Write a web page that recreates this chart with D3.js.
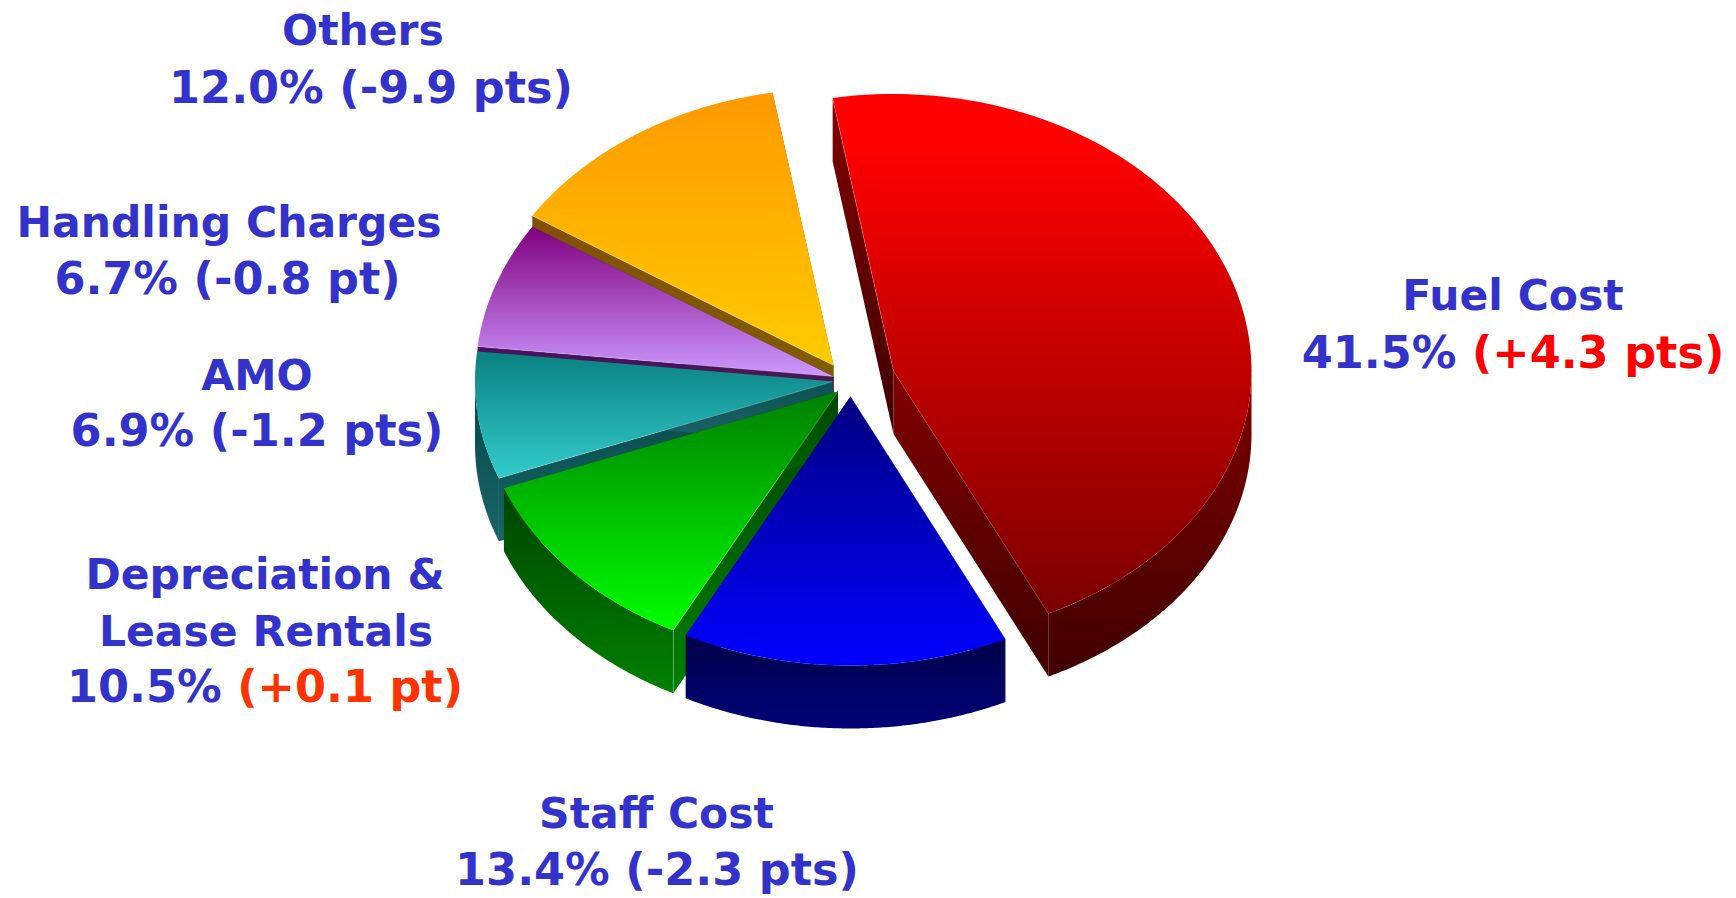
<!DOCTYPE html>
<html><head><meta charset="utf-8">
<script src="https://cdn.jsdelivr.net/npm/d3@7"></script>
<style>html,body{margin:0;padding:0;background:#fff;overflow:hidden}svg{display:block}
text{font-family:"DejaVu Sans",sans-serif;font-weight:700;text-anchor:middle}
.name{font-size:42.5px}
.val{font-size:44.6px}</style>
</head><body><script>
// ---- data ----
const categories = ["Fuel Cost","Staff Cost","Depreciation & Lease Rentals","AMO","Handling Charges","Others"];
const shares = [41.5,13.4,10.5,6.9,6.7,12.0];
const deltas = ["(+4.3 pts)","(-2.3 pts)","(+0.1 pt)","(-1.2 pts)","(-0.8 pt)","(-9.9 pts)"];
const nameLines = [["Fuel Cost"],["Staff Cost"],["Depreciation &","Lease Rentals"],["AMO"],["Handling Charges"],["Others"]];
// ---- styling ----
const faceColors = [["#ff0000","#7a0000"],["#000080","#0000ff"],["#008000","#00ff00"],["#0a8080","#33cccc"],["#800080","#cc99ff"],["#ff9900","#ffcc00"]];
const faceStart = [0.1,0,0,0,0,0];
const wallColors = [["#800000","#400000"],["#000048","#000078"],["#004400","#008000"],["#044848","#1a6468"],["#4a1060","#4a1a50"],["#805000","#806000"]];
const deltaColors = ["#ff0000","#3333cc","#ff3300","#3333cc","#3333cc","#3333cc"];
const textColor = "#3333cc";
// ---- layout ----
const W=1736,H=898,depth=63,rx=358,ryTop=277,ryBottom=269;
const apexes=[[893.5,371],[850.5,396.5],[838,391.5],[833,381.5],[833.5,376.5],[833.5,365.5]];
const drawOrder=[5,4,3,2,1,0];
const labelPos=[
 {lines:[[1513,310]],val:[1513,368]},
 {lines:[[656.5,828]],val:[657,885]},
 {lines:[[265,589],[266,646]],val:[265,702]},
 {lines:[[257,390]],val:[257,446]},
 {lines:[[229,237]],val:[227.5,294]},
 {lines:[[363,44.5]],val:[371,103]}];

const svg=d3.select("body").append("svg").attr("width",W).attr("height",H);
const defs=svg.append("defs");
const deg=Math.PI/180, start=-9.8*deg;
const pie=d3.pie().sort(null).startAngle(start).endAngle(start+2*Math.PI);
const arcs=pie(shares);
const sx=d3.scaleLinear().domain([-1,1]).range([-rx,rx]);
const sy=d3.scaleLinear().domain([-1,0,1]).range([-ryTop,0,ryBottom]);
const line=d3.line();
function grad(id,c,o){const g=defs.append("linearGradient").attr("id",id).attr("x1",0).attr("y1",0).attr("x2",0).attr("y2",1);
 g.append("stop").attr("offset",o||0).attr("stop-color",c[0]);
 g.append("stop").attr("offset",1).attr("stop-color",c[1]);}
shares.forEach((s,i)=>{grad("face"+i,faceColors[i],faceStart[i]);grad("wall"+i,wallColors[i]);});
drawOrder.forEach(i=>{
 const a=arcs[i],[cx,cy]=apexes[i];
 const g=svg.append("g").attr("class","slice").attr("data-name",categories[i]);
 const P=t=>[cx+sx(Math.sin(t)),cy+sy(-Math.cos(t))];
 const radial=t=>{const p=P(t);return [[cx,cy],p,[p[0],p[1]+depth],[cx,cy+depth]];};
 [a.startAngle,a.endAngle].forEach(t=>{
   g.append("path").attr("d",line(radial(t))+"Z").attr("fill",`url(#wall${i})`);
 });
 const steps=d3.range(0,121).map(k=>k/120);
 const t0=Math.max(a.startAngle,90*deg),t1=Math.min(a.endAngle,270*deg);
 if(t1>t0){
   const ts=steps.map(k=>t0+(t1-t0)*k);
   const top=ts.map(P),bot=ts.map(P).reverse().map(p=>[p[0],p[1]+depth]);
   g.append("path").attr("d",line(top.concat(bot))+"Z").attr("fill",`url(#wall${i})`);
 }
 const rim=steps.map(k=>P(a.startAngle+(a.endAngle-a.startAngle)*k));
 g.append("path").attr("d",line([[cx,cy]].concat(rim))+"Z").attr("fill",`url(#face${i})`);
 const st=P(a.startAngle);
 const hl=[[[cx,cy],st]];
 if(i<3) hl.push([st,[st[0],st[1]+depth]]);
 hl.forEach(l=>g.append("path").attr("d",line(l)).attr("fill","none").attr("stroke","#fff").attr("stroke-opacity",0.3).attr("stroke-width",0.8));
});
shares.forEach((s,i)=>{
 const g=svg.append("g").attr("class","label");
 nameLines[i].forEach((t,k)=>{const p=labelPos[i].lines[k];
   g.append("text").attr("class","name").attr("x",p[0]).attr("y",p[1]).attr("fill",textColor).text(t);});
 const v=labelPos[i].val;
 const tx=g.append("text").attr("class","val").attr("x",v[0]).attr("y",v[1]).attr("fill",textColor);
 tx.append("tspan").text(d3.format(".1f")(s)+"% ");
 tx.append("tspan").attr("fill",deltaColors[i]).text(deltas[i]);
});
</script></body></html>
